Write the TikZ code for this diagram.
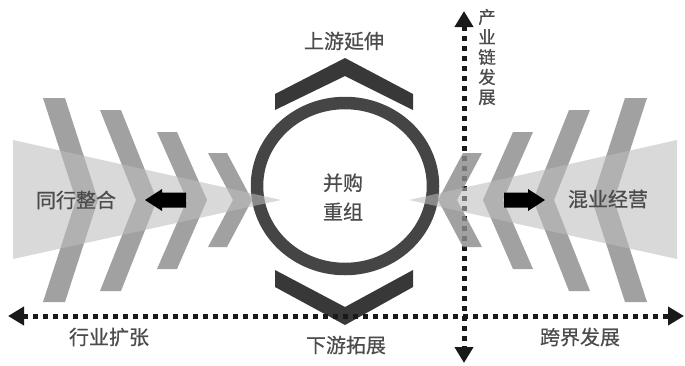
\documentclass[tikz,border=0pt]{standalone}
\usepackage{fontspec}
\newfontfamily\cjk{Noto Sans CJK SC}[FakeBold=0.6]
\usetikzlibrary{arrows.meta}
\definecolor{chevcol}{gray}{0.55}
\definecolor{conecol}{gray}{0.74}
\definecolor{ringcol}{gray}{0.27}
\definecolor{capcol}{gray}{0.22}
\definecolor{txtcol}{gray}{0.3}
\definecolor{dotcol}{gray}{0.1}
\begin{document}
\begin{tikzpicture}[x=1pt,y=-1pt,
  chevfill/.style={fill=chevcol, fill opacity=0.82},
  conefill/.style={fill=conecol, fill opacity=0.57},
  capfill/.style={fill=capcol},
  blockarrow/.style={fill=black},
  dotline/.style={draw=dotcol, line width=5pt, dash pattern=on 5pt off 5pt,
    {Triangle[length=16pt,width=18pt]}-{Triangle[length=16pt,width=18pt]}},
  lbl/.style={text=txtcol, font=\cjk\fontsize{20pt}{24pt}\selectfont, inner sep=0pt},
  vlbl/.style={text=txtcol, font=\cjk\fontsize{17.5pt}{20pt}\selectfont, inner sep=0pt, align=center},
  clbl/.style={text=txtcol, font=\cjk\fontsize{20pt}{29pt}\selectfont, inner sep=0pt, align=center}]
\useasboundingbox (0,0) rectangle (685,365);
% axes
\coordinate (hL) at (8,316);
\coordinate (hR) at (684,316);
\coordinate (vT) at (464,11);
\coordinate (vB) at (464,363);
\draw[dotline] (vT) -- (vB);
% ring
\draw[ringcol, line width=12.5pt] (345,186) ellipse [x radius=88pt, y radius=83pt];
% top and bottom chevrons
\fill[capfill] (275,94) -- (345,58) -- (413,94) -- (413,110) -- (345,76) -- (275,110) -- cycle;
\fill[capfill] (275,270) -- (345,307) -- (413,270) -- (413,287) -- (345,325) -- (275,287) -- cycle;
\draw[dotline] (hL) -- (hR);
% side chevrons
\foreach \xa/\w/\s/\t/\b in {43/22/33/98/302, 100/21/36/110/291, 157/20/30/132/269, 208/19/25/153/247}{
  \fill[chevfill] (\xa,\t) -- ({\xa+\w},\t) -- ({\xa+\w+\s},200) -- ({\xa+\w},\b) -- (\xa,\b) -- ({\xa+\s},200) -- cycle;
  \fill[chevfill] ({690-\xa},\t) -- ({690-\xa-\w},\t) -- ({690-\xa-\w-\s},200) -- ({690-\xa-\w},\b) -- ({690-\xa},\b) -- ({690-\xa-\s},200) -- cycle;
}
% cones
\fill[conefill] (13,140) -- (13,259) -- (281,200) -- cycle;
\fill[conefill] (677,140) -- (677,259) -- (409,200) -- cycle;
% block arrows
\fill[blockarrow] (145,200) -- (162,189) -- (162,192.5) -- (186,192.5) -- (186,207.5) -- (162,207.5) -- (162,211) -- cycle;
\fill[blockarrow] (545,200) -- (528,189) -- (528,192.5) -- (504,192.5) -- (504,207.5) -- (528,207.5) -- (528,211) -- cycle;
% labels
\node[lbl] (up) at (344,41) {上游延伸};
\node[lbl] (down) at (346,345) {下游拓展};
\node[lbl] (hy) at (109,337) {行业扩张};
\node[lbl] (kj) at (580,337) {跨界发展};
\node[lbl] (tx) at (76,200) {同行整合};
\node[lbl] (hj) at (608,199) {混业经营};
\node[clbl] (mid) at (343,197) {并购\\重组};
\node[vlbl] (chain) at (487,57) {产\\业\\链\\发\\展};
\end{tikzpicture}
\end{document}
